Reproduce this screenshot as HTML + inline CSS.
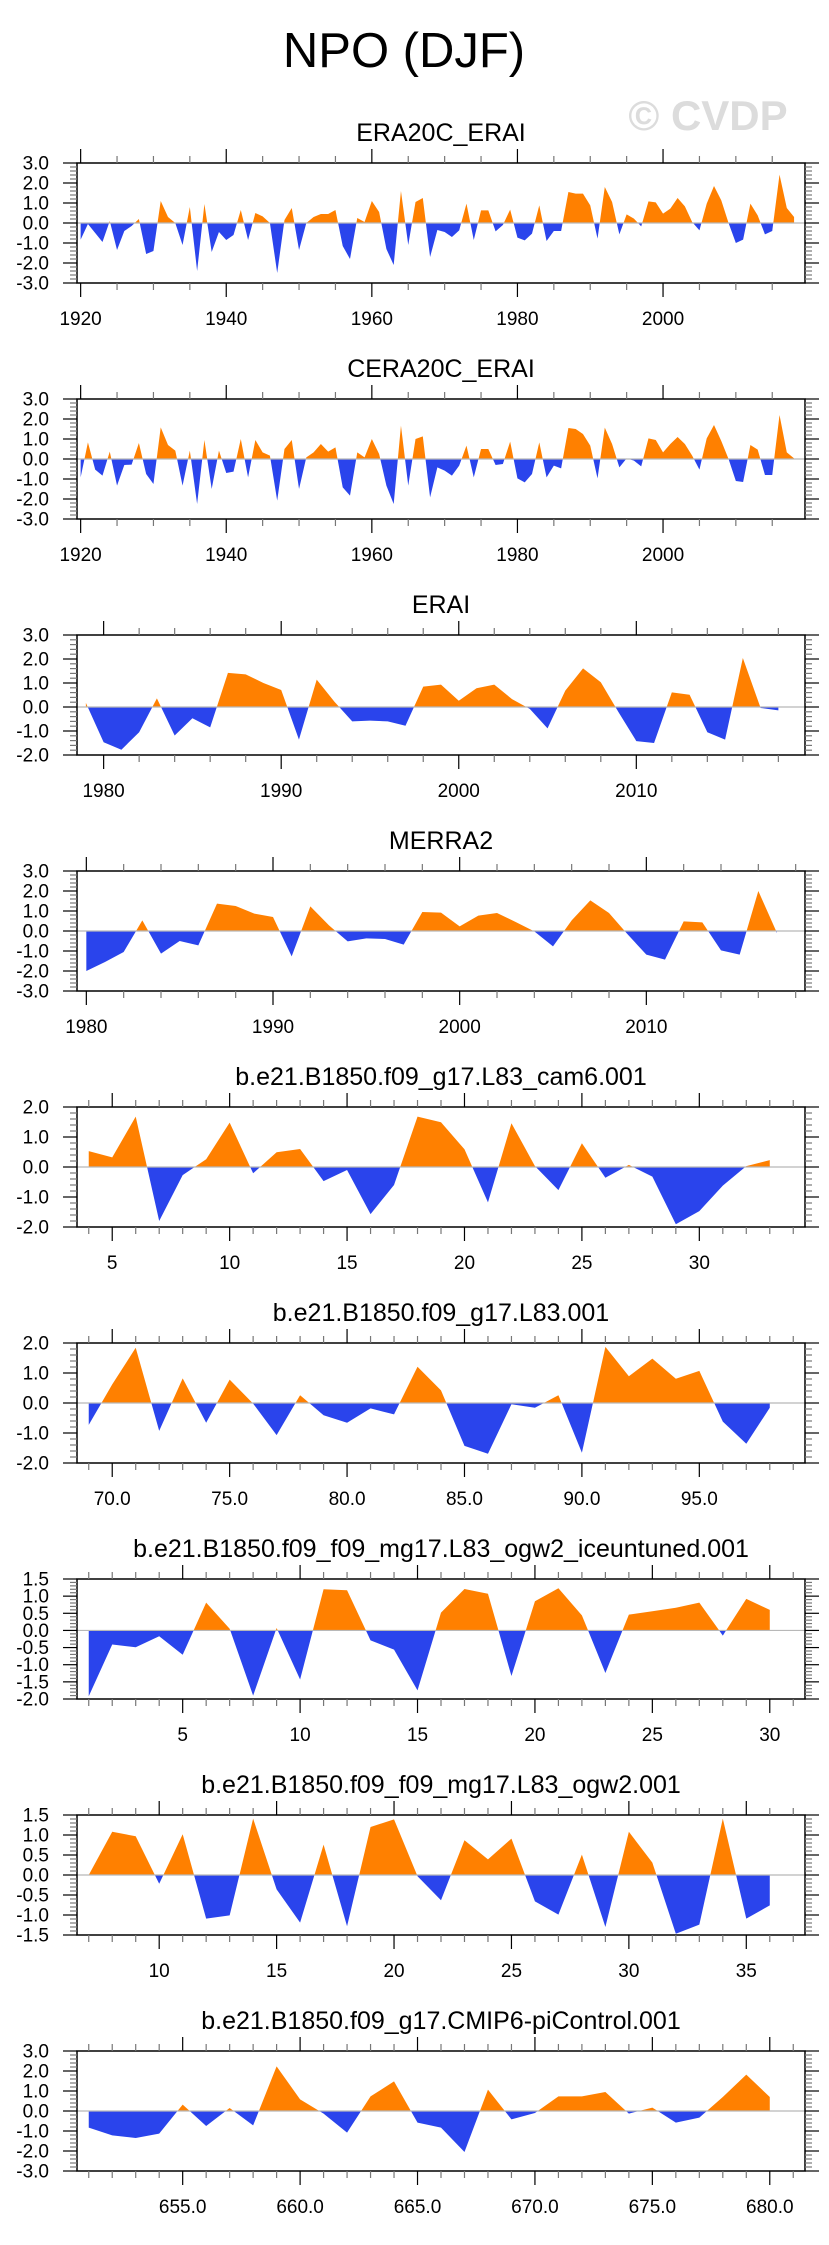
<!DOCTYPE html>
<html><head><meta charset="utf-8"><title>NPO (DJF)</title>
<style>
html,body{margin:0;padding:0;background:#fff;}
svg{display:block;font-family:"Liberation Sans",Arial,sans-serif;}
</style></head>
<body>
<svg id="fig" xmlns="http://www.w3.org/2000/svg" width="829" height="2245" viewBox="0 0 829 2245">
<text x="404" y="67" font-size="49" text-anchor="middle" fill="#000">NPO (DJF)</text>
<text x="708" y="130" font-size="42" font-weight="bold" text-anchor="middle" fill="#dcdcdc">© CVDP</text>
</svg>
<script>
// ---- data ----
const era20cStart = 1920;
const era20cVals = [-0.83,-0.05,-0.5,-0.95,0.1,-1.35,-0.4,-0.15,0.2,-1.55,-1.4,1.1,0.3,0.0,-1.1,0.8,-2.4,0.95,-1.45,-0.45,
-0.85,-0.6,0.65,-0.85,0.5,0.33,0,-2.5,0.15,0.75,-1.35,0,0.3,0.45,0.45,0.65,-1.15,-1.8,0.25,0.05,
1.1,0.55,-1.3,-2.1,1.6,-1.1,1.05,1.25,-1.7,-0.35,-0.45,-0.7,-0.37,0.97,-0.85,0.63,0.63,-0.42,-0.1,0.67,
-0.73,-0.87,-0.53,0.88,-0.9,-0.4,-0.4,1.55,1.47,1.47,0.88,-0.78,1.8,1.05,-0.57,0.43,0.22,-0.17,1.08,1.03,
0.47,0.72,1.25,0.83,0.05,-0.37,0.97,1.85,1.13,0,-1.0,-0.83,0.97,0.38,-0.57,-0.4,2.42,0.75,0.3];
const cera20cStart = 1920;
const cera20cVals = [-0.92,0.83,-0.53,-0.83,0.37,-1.33,-0.3,-0.28,0.8,-0.75,-1.25,1.58,0.7,0.42,-1.33,0.42,-2.25,0.95,-1.5,0.42,
-0.7,-0.63,1.0,-0.92,0.95,0.33,0.17,-2.08,0.5,0.95,-1.5,0.08,0.33,0.75,0.37,0.58,-1.42,-1.83,0.33,0.08,
1.0,0.25,-1.33,-2.25,1.67,-1.33,1.0,1.13,-1.92,-0.42,-0.58,-0.83,-0.33,0.67,-0.92,0.5,0.5,-0.3,-0.25,0.87,
-0.97,-1.17,-0.75,0.83,-0.92,-0.33,-0.47,1.55,1.5,1.25,0.67,-0.97,1.57,0.75,-0.42,0.03,-0.08,-0.37,1.03,0.95,
0.33,0.75,1.1,0.75,0.17,-0.53,1.03,1.7,0.9,0,-1.1,-1.15,0.7,0.47,-0.8,-0.8,2.2,0.33,0.03];
const eraiStart = 1979;
const eraiVals = [0.17,-1.47,-1.78,-1.05,0.36,-1.19,-0.47,-0.85,1.42,1.36,1.0,0.71,-1.36,1.14,0.22,-0.6,-0.57,-0.6,-0.78,0.85,
0.93,0.26,0.78,0.93,0.33,-0.08,-0.89,0.68,1.61,1.03,-0.22,-1.42,-1.5,0.61,0.51,-1.05,-1.36,2.04,-0.04,-0.14];
const merra2Start = 1980;
const merra2Vals = [-2.0,-1.55,-1.05,0.53,-1.13,-0.5,-0.72,1.37,1.25,0.87,0.7,-1.27,1.23,0.28,-0.52,-0.37,-0.4,-0.68,0.95,0.92,
0.23,0.77,0.9,0.45,-0.02,-0.77,0.53,1.53,0.9,-0.17,-1.18,-1.43,0.48,0.43,-0.97,-1.18,2.0,-0.1];
const cam6Start = 4;
const cam6Vals = [0.53,0.32,1.68,-1.8,-0.27,0.26,1.48,-0.21,0.49,0.6,-0.47,-0.1,-1.57,-0.6,1.68,1.49,0.59,-1.18,1.46,0.03,
-0.77,0.79,-0.36,0.07,-0.32,-1.91,-1.47,-0.62,0.03,0.23];
const l83Start = 69;
const l83Vals = [-0.73,0.62,1.84,-0.93,0.82,-0.66,0.78,-0.02,-1.07,0.26,-0.41,-0.66,-0.18,-0.38,1.21,0.42,-1.43,-1.69,-0.04,-0.16,
0.26,-1.66,1.87,0.89,1.48,0.81,1.07,-0.62,-1.36,-0.16];
const iceStart = 1;
const iceVals = [-1.92,-0.41,-0.49,-0.17,-0.71,0.81,0.05,-1.9,0.07,-1.43,1.2,1.17,-0.29,-0.56,-1.75,0.52,1.21,1.07,-1.33,0.85,
1.23,0.44,-1.24,0.46,0.56,0.66,0.81,-0.15,0.92,0.6];
const ogw2Start = 7;
const ogw2Vals = [0,1.08,0.97,-0.22,1.02,-1.09,-1.01,1.41,-0.36,-1.19,0.76,-1.28,1.2,1.39,-0.03,-0.63,0.87,0.39,0.91,-0.66,
-0.99,0.51,-1.3,1.08,0.31,-1.47,-1.24,1.41,-1.09,-0.76];
const piStart = 651;
const piVals = [-0.83,-1.22,-1.35,-1.13,0.32,-0.75,0.15,-0.72,2.23,0.58,-0.13,-1.08,0.73,1.48,-0.58,-0.83,-2.05,1.07,-0.42,-0.1,
0.73,0.73,0.95,-0.13,0.17,-0.58,-0.33,0.7,1.82,0.7];

const titles = ["ERA20C_ERAI","CERA20C_ERAI","ERAI","MERRA2","b.e21.B1850.f09_g17.L83_cam6.001","b.e21.B1850.f09_g17.L83.001",
"b.e21.B1850.f09_f09_mg17.L83_ogw2_iceuntuned.001","b.e21.B1850.f09_f09_mg17.L83_ogw2.001","b.e21.B1850.f09_g17.CMIP6-piControl.001"];
const xTickLabels1 = ["1920","1940","1960","1980","2000"];
const xTickLabels3 = ["1980","1990","2000","2010"];
const xTickLabels5 = ["5","10","15","20","25","30"];
const xTickLabels6 = ["70.0","75.0","80.0","85.0","90.0","95.0"];
const xTickLabels8 = ["10","15","20","25","30","35"];
const xTickLabels9 = ["655.0","660.0","665.0","670.0","675.0","680.0"];

// ---- axis configuration ----
const panels = [
 {vals:era20cVals,start:era20cStart,xlab:xTickLabels1,xmaj:20,xmin:5,y0:-3,y1:3,ymaj:1,ymin:0.2,dec:1},
 {vals:cera20cVals,start:cera20cStart,xlab:xTickLabels1,xmaj:20,xmin:5,y0:-3,y1:3,ymaj:1,ymin:0.2,dec:1},
 {vals:eraiVals,start:eraiStart,xlab:xTickLabels3,xmaj:10,xmin:2,y0:-2,y1:3,ymaj:1,ymin:0.2,dec:1},
 {vals:merra2Vals,start:merra2Start,xlab:xTickLabels3,xmaj:10,xmin:2,y0:-3,y1:3,ymaj:1,ymin:0.2,dec:1},
 {vals:cam6Vals,start:cam6Start,xlab:xTickLabels5,xmaj:5,xmin:1,y0:-2,y1:2,ymaj:1,ymin:0.2,dec:1},
 {vals:l83Vals,start:l83Start,xlab:xTickLabels6,xmaj:5,xmin:1,y0:-2,y1:2,ymaj:1,ymin:0.2,dec:1},
 {vals:iceVals,start:iceStart,xlab:xTickLabels5,xmaj:5,xmin:1,y0:-2,y1:1.5,ymaj:0.5,ymin:0.1,dec:1},
 {vals:ogw2Vals,start:ogw2Start,xlab:xTickLabels8,xmaj:5,xmin:1,y0:-1.5,y1:1.5,ymaj:0.5,ymin:0.1,dec:1},
 {vals:piVals,start:piStart,xlab:xTickLabels9,xmaj:5,xmin:1,y0:-3,y1:3,ymaj:1,ymin:0.2,dec:1}
];

const NS="http://www.w3.org/2000/svg";
const svg=document.getElementById('fig');
const BX0=77,BX1=805,BH=120,TOP0=163,STEP=236;
function mk(tag,attrs,parent){const e=document.createElementNS(NS,tag);for(const k in attrs)e.setAttribute(k,attrs[k]);(parent||svg).appendChild(e);return e;}

panels.forEach((p,pi)=>{
  const top=TOP0+pi*STEP, bot=top+BH;
  const n=p.vals.length;
  const xa=p.start-0.5, xb=p.start+n-1+1.5;
  const sx=v=>BX0+(v-xa)/(xb-xa)*(BX1-BX0);
  const sy=v=>bot-(v-p.y0)/(p.y1-p.y0)*BH;
  const g=mk('g',{});
  
  
  const t=mk('text',{x:441,y:top-22,'font-size':25,'text-anchor':'middle',fill:'#000'},g);
  t.textContent=titles[pi];
  
  
  const pts=[];
  for(let i=0;i<n;i++){
    const x=p.start+i,v=p.vals[i];
    if(i>0){const pv=p.vals[i-1];if((pv>0&&v<0)||(pv<0&&v>0)){const f=pv/(pv-v);pts.push([x-1+f,0]);}}
    pts.push([x,v]);
  }
  const zy=sy(0);
  function area(fn){let d='M'+sx(pts[0][0]).toFixed(2)+','+zy.toFixed(2);
    pts.forEach(q=>{d+='L'+sx(q[0]).toFixed(2)+','+sy(fn(q[1])).toFixed(2);});
    d+='L'+sx(pts[pts.length-1][0]).toFixed(2)+','+zy.toFixed(2)+'Z';return d;}
  const pos=mk('path',{d:area(v=>Math.max(v,0)),fill:'#ff8000',stroke:'none'},g);
  
  
  const neg=mk('path',{d:area(v=>Math.min(v,0)),fill:'#2a44ec',stroke:'none'},g);
  
  
  const zl=mk('line',{x1:BX0,x2:BX1,y1:zy,y2:zy,stroke:'#b8b8b8','stroke-width':1.2},g);
  
  
  const box=mk('rect',{x:BX0,y:top,width:BX1-BX0,height:BH,fill:'none',stroke:'#000','stroke-width':1.5},g);
  
  
  const ny=Math.round((p.y1-p.y0)/p.ymin);
  for(let k=0;k<=ny;k++){
    const v=p.y0+k*p.ymin, y=sy(v);
    const isMaj=Math.abs(v/p.ymaj-Math.round(v/p.ymaj))<1e-6;
    const L=isMaj?14:7, col=isMaj?'#000':'#777';
    mk('line',{x1:BX0-L,x2:BX0,y1:y,y2:y,stroke:col,'stroke-width':1.2},g);
    mk('line',{x1:BX1,x2:BX1+L,y1:y,y2:y,stroke:col,'stroke-width':1.2},g);
    if(isMaj){const lb=mk('text',{x:49,y:y+6.5,'font-size':19,'text-anchor':'end',fill:'#000'},g);
      lb.textContent=(Math.abs(v)<1e-9?0:v).toFixed(p.dec);
      
      }
  }
  const firstMin=Math.ceil(xa/p.xmin)*p.xmin;
  for(let v=firstMin;v<=xb+1e-9;v+=p.xmin){
    const x=sx(v);const isMaj=Math.abs(v/p.xmaj-Math.round(v/p.xmaj))<1e-6;
    const L=isMaj?14:7,col=isMaj?'#000':'#777';
    mk('line',{x1:x,x2:x,y1:bot,y2:bot+L,stroke:col,'stroke-width':1.2},g);
    mk('line',{x1:x,x2:x,y1:top-L,y2:top,stroke:col,'stroke-width':1.2},g);
  }
  p.xlab.forEach(s=>{
    const v=parseFloat(s);const lb=mk('text',{x:sx(v),y:bot+42,'font-size':19,'text-anchor':'middle',fill:'#000'},g);
    lb.textContent=s;
    
    
  });
});
</script>
</body></html>
